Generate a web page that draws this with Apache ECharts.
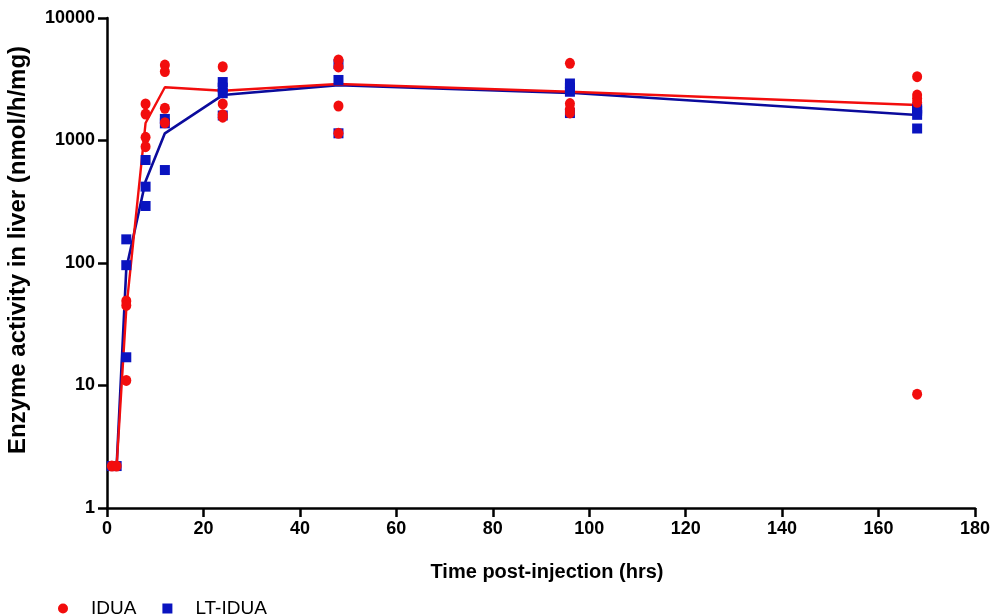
<!DOCTYPE html>
<html>
<head>
<meta charset="utf-8">
<script src="https://cdn.jsdelivr.net/npm/echarts@6/dist/echarts.min.js"></script>
<style>
  html, body { margin: 0; padding: 0; background: #fff; }
  #chart { width: 994px; height: 615px; }
</style>
</head>
<body>
<div id="chart"></div>
<script>
// Sampling times (hrs)
const times = [1, 2, 4, 8, 12, 24, 48, 96, 168];

// Individual animals, one list per time point
const iduaValues = [
  [2.2], [2.2],
  [49, 45, 11],
  [1990, 1645, 1062, 890],
  [4130, 3650, 1833, 1396],
  [4000, 1990, 1620, 1550],
  [4540, 3990, 1913, 1145],
  [4270, 2000, 1800, 1680],
  [3320, 2350, 2200, 2050, 8.5]
];
const ltIduaValues = [
  [2.2], [2.2],
  [156, 96, 17],
  [693, 420, 292],
  [1500, 1380, 574],
  [3000, 2700, 2430, 1600],
  [4200, 3120, 1145],
  [2920, 2700, 2500, 1675],
  [1825, 1750, 1620, 1253]
];

// Group means (connecting lines)
const iduaMean = [2.2, 2.2, 42, 1390, 2720, 2550, 2890, 2500, 1950];
const ltIduaMean = [2.2, 2.2, 90, 465, 1145, 2350, 2830, 2450, 1615];

const xTicks = { min: 0, max: 180, interval: 20 };
const yTicks = { min: 1, max: 10000 };

const red = '#f20d0d';
const blueMarker = '#0a14c0';
const blueLine = '#0b0b9c';
const font = 'Liberation Sans, Arial, sans-serif';

const points = (vals) => vals.flatMap((list, i) => list.map(v => [times[i], v]));
const meanLine = (vals) => vals.map((v, i) => [times[i], v]);

const axisLine = () => ({ show: true, lineStyle: { color: '#000', width: 2.5 } });
const axisTick = () => ({ show: true, inside: false, length: 9, lineStyle: { color: '#000', width: 2.5 } });

const option = {
  backgroundColor: '#fff',
  animation: false,
  grid: { left: 107, right: 19, top: 18, bottom: 107, outerBoundsMode: 'none' },
  legend: {
    data: [
      { name: 'IDUA', icon: 'circle' },
      { name: 'LT-IDUA', icon: 'rect' }
    ],
    left: 53,
    top: 594,
    itemWidth: 10,
    itemHeight: 10,
    itemGap: 26,
    textStyle: {
      color: '#000',
      fontSize: 19,
      fontFamily: font,
      padding: [0, 0, 0, 18]
    }
  },
  xAxis: {
    type: 'value',
    min: xTicks.min,
    max: xTicks.max,
    interval: xTicks.interval,
    name: 'Time post-injection (hrs)',
    nameLocation: 'middle',
    nameGap: 54,
    nameTextStyle: { color: '#000', fontSize: 20, fontWeight: 'bold', fontFamily: font, padding: [0, 0, 0, 12] },
    axisLine: { onZero: false, ...axisLine() },
    axisTick: axisTick(),
    axisLabel: { color: '#000', fontSize: 18, fontWeight: 'bold', fontFamily: font, margin: 12 },
    splitLine: { show: false }
  },
  yAxis: {
    type: 'log',
    logBase: 10,
    min: yTicks.min,
    max: yTicks.max,
    name: 'Enzyme activity in liver (nmol/h/mg)',
    nameLocation: 'middle',
    nameGap: 77,
    nameTextStyle: { color: '#000', fontSize: 24, fontWeight: 'bold', fontFamily: font, padding: [0, 0, 0, 26] },
    axisLine: axisLine(),
    axisTick: axisTick(),
    minorTick: { show: false },
    axisLabel: {
      color: '#000', fontSize: 18, fontWeight: 'bold', fontFamily: font, margin: 12,
      formatter: (v) => String(v)
    },
    splitLine: { show: false }
  },
  series: [
    {
      name: 'LT-IDUA mean',
      type: 'line',
      data: meanLine(ltIduaMean),
      showSymbol: false,
      lineStyle: { color: blueLine, width: 2.6 },
      z: 1
    },
    {
      name: 'IDUA mean',
      type: 'line',
      data: meanLine(iduaMean),
      showSymbol: false,
      lineStyle: { color: red, width: 2.4 },
      z: 2
    },
    {
      name: 'LT-IDUA',
      type: 'scatter',
      data: points(ltIduaValues),
      symbol: 'rect',
      symbolSize: 10,
      itemStyle: { color: blueMarker, opacity: 1 },
      z: 3
    },
    {
      name: 'IDUA',
      type: 'scatter',
      data: points(iduaValues),
      symbol: 'circle',
      symbolSize: [10, 11],
      itemStyle: { color: red, opacity: 1 },
      z: 4
    }
  ]
};

const chart = echarts.init(document.getElementById('chart'));
chart.setOption(option);
</script>
</body>
</html>
